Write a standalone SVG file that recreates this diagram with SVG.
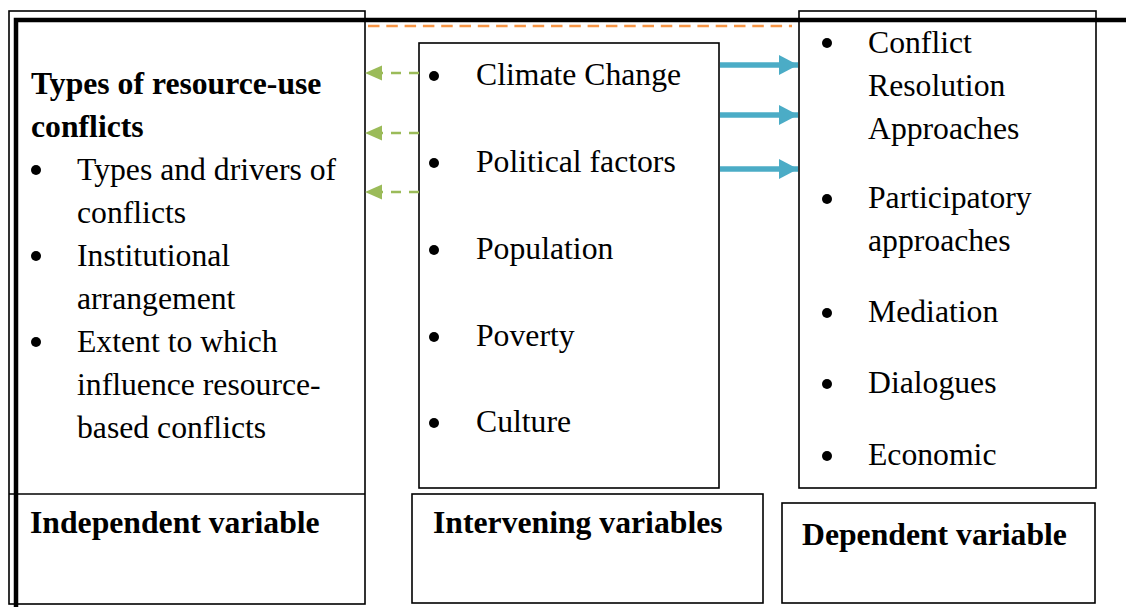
<svg xmlns="http://www.w3.org/2000/svg" width="1126" height="607" viewBox="0 0 1126 607">
  <defs>
    <style>
      .box { fill: #fff; stroke: #000; stroke-width: 1.6; }
      .t { font-family: "Liberation Serif", "Times New Roman", serif; font-size: 31.7px; fill: #000; }
      .b { font-weight: bold; }
      .dot { fill: #000; }
      .frame { fill: none; stroke: #000; stroke-width: 4.5; }
      .blue { stroke: #4BACC6; stroke-width: 5.5; fill: none; }
      .green { stroke: #9BBB59; stroke-width: 2.5; stroke-dasharray: 10 8; fill: none; }
      .orange { stroke: #F79646; stroke-width: 2.5; stroke-dasharray: 11.5 6.8; fill: none; }
    </style>
    <marker id="blueHead" markerUnits="userSpaceOnUse" markerWidth="20" markerHeight="22" refX="19" refY="10" orient="auto">
      <path d="M0,0 L19,10 L0,20 Z" fill="#4BACC6"/>
    </marker>
    <marker id="greenHead" markerUnits="userSpaceOnUse" markerWidth="18" markerHeight="16" refX="17" refY="7.5" orient="auto">
      <path d="M0,0 L17,7.5 L0,15 Z" fill="#9BBB59"/>
    </marker>
  </defs>

  <!-- independent variable panel -->
  <g id="independent">
    <rect class="box" x="9" y="11" width="356" height="593"/>
    <line x1="9" y1="494" x2="365" y2="494" stroke="#000" stroke-width="1.6"/>
    <text class="t b" x="31" y="94">Types of resource-use</text>
    <text class="t b" x="31" y="137">conflicts</text>
    <circle class="dot" cx="36" cy="170" r="5"/>
    <text class="t" x="77" y="180">Types and drivers of</text>
    <text class="t" x="77" y="223">conflicts</text>
    <circle class="dot" cx="36" cy="256" r="5"/>
    <text class="t" x="77" y="266">Institutional</text>
    <text class="t" x="77" y="309">arrangement</text>
    <circle class="dot" cx="36" cy="342" r="5"/>
    <text class="t" x="77" y="352">Extent to which</text>
    <text class="t" x="77" y="395">influence resource-</text>
    <text class="t" x="77" y="438">based conflicts</text>
    <text class="t b" x="30" y="533">Independent variable</text>
  </g>

  <!-- intervening variables panel -->
  <g id="intervening">
    <rect class="box" x="419" y="43" width="300" height="445"/>
    <circle class="dot" cx="434" cy="76" r="5"/>
    <text class="t" x="476" y="85">Climate Change</text>
    <circle class="dot" cx="434" cy="163" r="5"/>
    <text class="t" x="476" y="172">Political factors</text>
    <circle class="dot" cx="434" cy="250" r="5"/>
    <text class="t" x="476" y="259">Population</text>
    <circle class="dot" cx="434" cy="337" r="5"/>
    <text class="t" x="476" y="346">Poverty</text>
    <circle class="dot" cx="434" cy="423" r="5"/>
    <text class="t" x="476" y="432">Culture</text>
  </g>
  <g id="intervening-label">
    <rect class="box" x="412" y="494" width="351" height="109"/>
    <text class="t b" x="433" y="533">Intervening variables</text>
  </g>

  <!-- dependent variable panel -->
  <g id="dependent">
    <rect class="box" x="799" y="11" width="297" height="477"/>
    <circle class="dot" cx="827" cy="43" r="5"/>
    <text class="t" x="868" y="53">Conflict</text>
    <text class="t" x="868" y="96">Resolution</text>
    <text class="t" x="868" y="139">Approaches</text>
    <circle class="dot" cx="827" cy="199" r="5"/>
    <text class="t" x="868" y="208">Participatory</text>
    <text class="t" x="868" y="251">approaches</text>
    <circle class="dot" cx="827" cy="313" r="5"/>
    <text class="t" x="868" y="322">Mediation</text>
    <circle class="dot" cx="827" cy="384" r="5"/>
    <text class="t" x="868" y="393">Dialogues</text>
    <circle class="dot" cx="827" cy="456" r="5"/>
    <text class="t" x="868" y="465">Economic</text>
  </g>
  <g id="dependent-label">
    <rect class="box" x="782" y="503" width="313" height="100"/>
    <text class="t b" x="802" y="545">Dependent variable</text>
  </g>

  <!-- heavy outer frame, drawn across the panels -->
  <path class="frame" d="M16,607 L16,20 L1126,20"/>

  <!-- connectors -->
  <g id="connectors">
    <line class="orange" x1="368" y1="26" x2="792" y2="26"/>
    <line class="green" x1="419" y1="73" x2="365" y2="73" marker-end="url(#greenHead)"/>
    <line class="green" x1="419" y1="133" x2="365" y2="133" marker-end="url(#greenHead)"/>
    <line class="green" x1="419" y1="192" x2="365" y2="192" marker-end="url(#greenHead)"/>
    <line class="blue" x1="720" y1="65" x2="798" y2="65" marker-end="url(#blueHead)"/>
    <line class="blue" x1="720" y1="115" x2="798" y2="115" marker-end="url(#blueHead)"/>
    <line class="blue" x1="720" y1="169" x2="798" y2="169" marker-end="url(#blueHead)"/>
  </g>
</svg>
